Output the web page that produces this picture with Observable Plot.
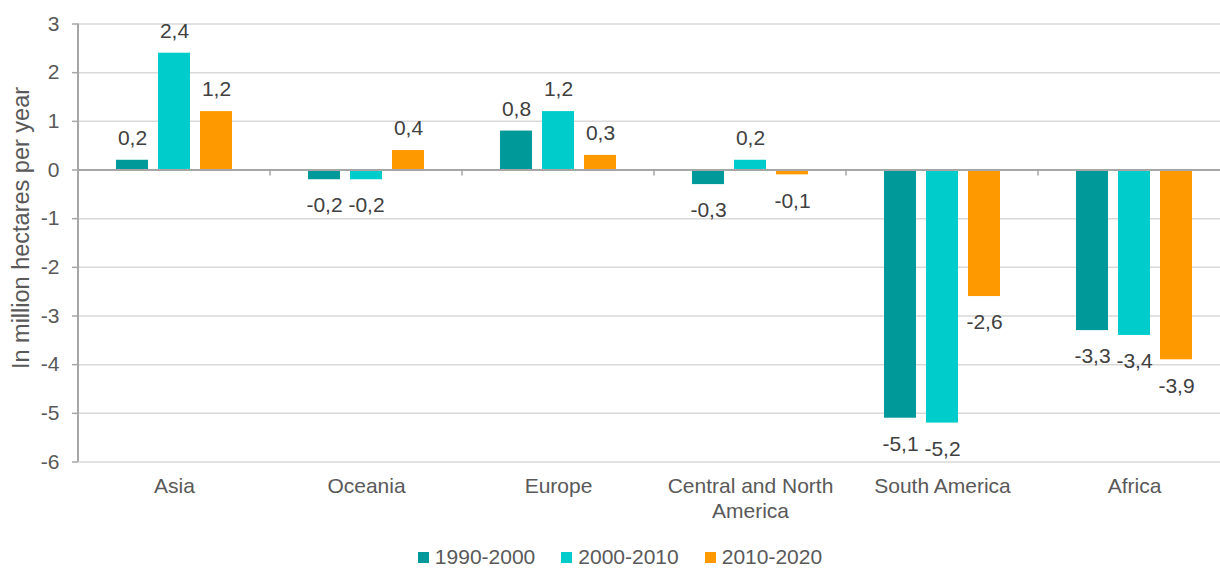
<!DOCTYPE html>
<html>
<head>
<meta charset="utf-8">
<script src="https://cdn.jsdelivr.net/npm/d3@7"></script>
<script src="https://cdn.jsdelivr.net/npm/@observablehq/plot@0.6"></script>
<style>
  body { margin: 0; background: #fff; font-family: Arial, "Liberation Sans", sans-serif; }
  #legend { display: flex; justify-content: center; align-items: center; height: 24px; margin-top: 15px;
            padding-left: 20px; font-size: 21px; color: #595959; }
  #legend .item { display: flex; align-items: center; margin: 0 13px; }
  #legend .sw { width: 11px; height: 11px; margin-right: 6px; }
</style>
</head>
<body>
<div id="chart"></div>
<div id="legend"></div>
<script>
// Net change in forest area by region, per decade (million hectares per year)
const regions = ["Asia", "Oceania", "Europe", "Central and North America", "South America", "Africa"];
const periods = ["1990-2000", "2000-2010", "2010-2020"];
const change1990s = [0.2, -0.2, 0.8, -0.3, -5.1, -3.3];
const change2000s = [2.4, -0.2, 1.2, 0.2, -5.2, -3.4];
const change2010s = [1.2, 0.4, 0.3, -0.1, -2.6, -3.9];
const periodColors = ["#009999", "#00CCCC", "#FF9900"];
const yTicks = [3, 2, 1, 0, -1, -2, -3, -4, -5, -6];
const regionLabels = { "Central and North America": "Central and North\nAmerica" };
const yLabel = "In million hectares per year";

const series = [change1990s, change2000s, change2010s];
const rows = regions.flatMap((region, i) =>
  periods.map((period, j) => ({ region, period, value: series[j][i] }))
);

const fmt = v => d3.format(".1f")(v).replace(".", ",").replace("\u2212", "-");

const chart = Plot.plot({
  width: 1220,
  height: 530,
  marginLeft: 78,
  marginRight: -10,
  marginTop: 23.5,
  marginBottom: 68.5,
  style: { fontFamily: 'Arial, "Liberation Sans", sans-serif', fontSize: "21px", color: "#595959", background: "#fff", overflow: "visible" },
  fx: { domain: regions, padding: 0, label: null },
  x: { domain: periods, paddingInner: 0.227, paddingOuter: 0.864, axis: null },
  y: { domain: [-6, 3] },
  color: { domain: periods, range: periodColors },
  marks: [
    Plot.ruleY(yTicks.filter(t => t !== 0), { stroke: "#D9D9D9", strokeWidth: 1.5 }),
    Plot.barY(rows, { fx: "region", x: "period", y: "value", fill: "period" }),
    Plot.ruleY([0], { stroke: "#A6A6A6", strokeWidth: 2 }),
    Plot.text(rows.filter(d => d.value >= 0), {
      fx: "region", x: "period", y: "value", text: d => fmt(d.value), dy: -22, fill: "#404040"
    }),
    Plot.text(rows.filter(d => d.value < 0), {
      fx: "region", x: "period", y: "value", text: d => fmt(d.value), dy: 26, fill: "#404040"
    }),
    Plot.axisY({
      ticks: yTicks, tickFormat: d => String(d), tickSize: 6, tickPadding: 13,
      stroke: "#A6A6A6", strokeWidth: 1.5,
      label: yLabel, labelAnchor: "center", labelArrow: "none", labelOffset: 66
    }),
    Plot.axisFx({
      anchor: "bottom", tickSize: 0, tickPadding: 13, lineHeight: 1.19,
      tickFormat: d => regionLabels[d] ?? d, label: null
    })
  ]
});

document.getElementById("chart").append(chart);

const svg = d3.select(chart);

// Axis title: a little larger than the tick labels, and raised slightly
const yTitle = svg.select('g[aria-label="y-axis label"]');
yTitle
  .attr("font-size", 23.5)
  .attr("transform", `${yTitle.attr("transform") || ""} translate(0,-15)`.trim());

// Vertical axis line and the small separators between regions on the zero line
const fxs = chart.scale("fx");
const ys = chart.scale("y");
const y0 = ys.apply(0);
const starts = fxs.domain.map(d => fxs.apply(d));
const g = svg.append("g").attr("stroke", "#A6A6A6").attr("stroke-width", 1.5);
g.append("line")
  .attr("x1", starts[0]).attr("x2", starts[0])
  .attr("y1", ys.apply(3)).attr("y2", ys.apply(-6))
  .attr("stroke-width", 2);
g.selectAll("line.sep")
  .data(starts.slice(1))
  .join("line")
  .attr("class", "sep")
  .attr("x1", d => d).attr("x2", d => d)
  .attr("y1", y0).attr("y2", y0 + 6);

// Legend
const legend = d3.select("#legend");
periods.forEach((p, i) => {
  const item = legend.append("div").attr("class", "item");
  item.append("div").attr("class", "sw").style("background", periodColors[i]);
  item.append("span").text(p);
});
</script>
</body>
</html>
